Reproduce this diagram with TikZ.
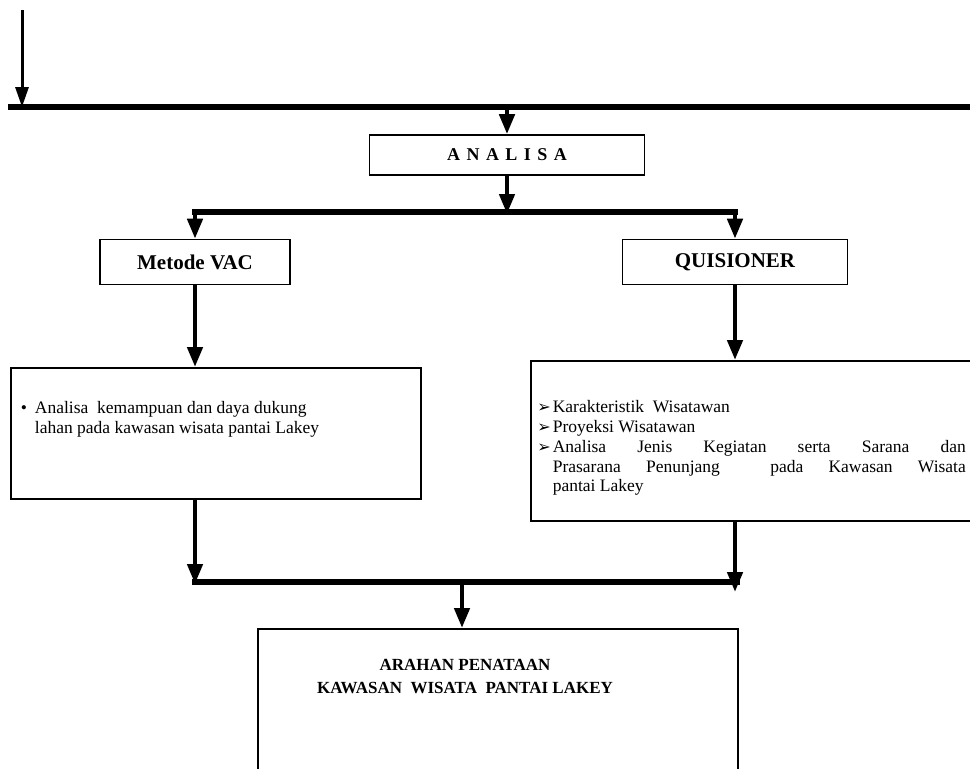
\documentclass[tikz,border=0pt]{standalone}
\usepackage{fontspec}
\setmainfont{Liberation Serif}
\newfontfamily\dejavu{DejaVu Sans}
\usetikzlibrary{arrows.meta}

\newcommand{\tandapanah}{{\dejavu\fontsize{16}{16}\selectfont ➢}}

\begin{document}
\begin{tikzpicture}[x=1pt,y=-1pt,
  kotak/.style={draw,line width=1.6pt,inner sep=0pt},
  judul/.style={font=\bfseries\fontsize{21}{23}\selectfont},
  panah/.style={line width=4.5pt,-{Triangle[length=20pt,width=15pt]}},
  garis/.style={line width=5.5pt}]
\useasboundingbox (0,0) rectangle (970,769);

% kotak-kotak
\node[kotak,minimum width=275,minimum height=40,judul,font=\bfseries\fontsize{18}{20}\selectfont] (analisa) at (507,155)
  {\addfontfeature{LetterSpace=36}ANALISA};
\node[kotak,minimum width=190,minimum height=45,judul] (vac) at (195,262) {Metode VAC};
\node[kotak,minimum width=225,minimum height=45,judul] (quis) at (735,262) {QUISIONER};
\node[kotak,anchor=north west] (hasilvac) at (10,367)
  {\parbox[t][131pt][t]{410pt}{\fontsize{17.5}{20}\selectfont\vspace*{34pt}%
   \hspace*{10pt}\textbullet\hspace{8pt}\parbox[t]{360pt}{Analisa\ \ kemampuan dan daya dukung\\
   lahan pada kawasan wisata pantai Lakey}}};
\node[kotak,anchor=north west] (hasilquis) at (530,360)
  {\parbox[t][160pt][t]{450pt}{\fontsize{17.5}{19.75}\selectfont\vspace*{40pt}%
   \parindent=0pt\leftskip=22pt\rightskip=15pt
   \leavevmode\llap{\tandapanah\hspace{2pt}}Karakteristik\ \ Wisatawan\par
   \leavevmode\llap{\tandapanah\hspace{2pt}}Proyeksi Wisatawan\par
   \leavevmode\llap{\tandapanah\hspace{2pt}}Analisa Jenis Kegiatan serta Sarana dan\linebreak
   Prasarana Penunjang\ \ pada Kawasan Wisata\linebreak pantai Lakey\par}};
\node[kotak,anchor=north,minimum width=480,minimum height=150] (arahan) at (498,628) {};
\node[judul,font=\bfseries\fontsize{17}{23}\selectfont,align=center,anchor=north] (teks) at (465,656)
  {ARAHAN PENATAAN\\ KAWASAN\ \ WISATA\ \ PANTAI LAKEY};

% titik bantu
\coordinate (masuk) at (22,10);
\coordinate (kiri1) at (8,107);
\coordinate (kanan1) at (980,107);
\coordinate (kiri2) at (192,212);
\coordinate (kanan2) at (738,212);
\coordinate (kiri3) at (192,582);
\coordinate (kanan3) at (740,582);

% garis dan panah
\draw[line width=3pt,-{Triangle[length=20pt,width=13pt]}] (masuk) -- (22,107);
\draw[garis] (kiri1) -- (kanan1);
\draw[panah] (507,107) -- (analisa.north);
\draw[panah] (analisa.south) -- (507,214);
\draw[garis] (kiri2) -- (kanan2);
\draw[panah] (195,212) -- (vac.north);
\draw[panah] (735,212) -- (quis.north);
\draw[panah] (vac.south) -- (hasilvac.north -| vac);
\draw[panah] (quis.south) -- (hasilquis.north -| quis);
\draw[panah] (hasilvac.south -| vac) -- (195,584);
\draw[panah] (hasilquis.south -| quis) -- (735,592);
\draw[garis] (kiri3) -- (kanan3);
\draw[panah] (462,582) -- (arahan.north -| 462,0);
\end{tikzpicture}
\end{document}
